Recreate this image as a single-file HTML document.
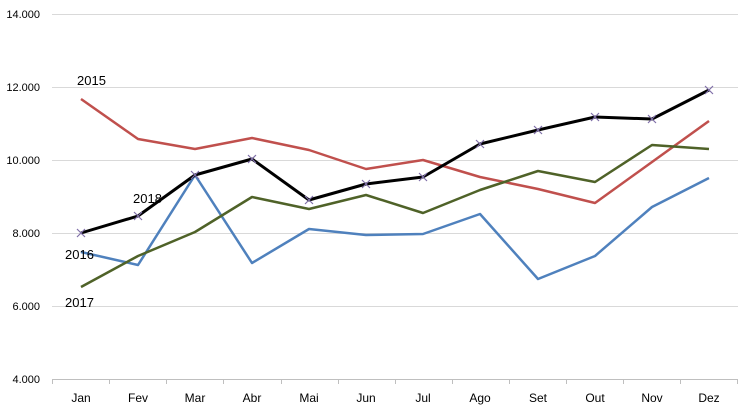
<!DOCTYPE html>
<html><head><meta charset="utf-8"><style>body{margin:0;background:#fff}svg{display:block}text{font-family:"Liberation Sans",sans-serif;font-size:12px;fill:#000}</style></head>
<body>
<svg width="750" height="413" viewBox="0 0 750 413">
<g stroke="#d9d9d9" stroke-width="1">
<line x1="52" y1="14.5" x2="738" y2="14.5"/><line x1="52" y1="87.5" x2="738" y2="87.5"/>
<line x1="52" y1="160.5" x2="738" y2="160.5"/><line x1="52" y1="233.5" x2="738" y2="233.5"/>
<line x1="52" y1="306.5" x2="738" y2="306.5"/></g>
<line x1="52" y1="379.5" x2="738" y2="379.5" stroke="#bfbfbf"/>
<g stroke="#bfbfbf">
<line x1="52.5" y1="379" x2="52.5" y2="384"/><line x1="109.5" y1="379" x2="109.5" y2="384"/><line x1="166.5" y1="379" x2="166.5" y2="384"/><line x1="223.5" y1="379" x2="223.5" y2="384"/><line x1="281.5" y1="379" x2="281.5" y2="384"/><line x1="338.5" y1="379" x2="338.5" y2="384"/><line x1="395.5" y1="379" x2="395.5" y2="384"/><line x1="452.5" y1="379" x2="452.5" y2="384"/><line x1="509.5" y1="379" x2="509.5" y2="384"/><line x1="566.5" y1="379" x2="566.5" y2="384"/><line x1="623.5" y1="379" x2="623.5" y2="384"/><line x1="680.5" y1="379" x2="680.5" y2="384"/><line x1="737.5" y1="379" x2="737.5" y2="384"/></g>
<g text-anchor="end" font-size="11"><text x="40" y="18" style="font-size:11px">14.000</text><text x="40" y="91" style="font-size:11px">12.000</text><text x="40" y="164" style="font-size:11px">10.000</text><text x="40" y="237" style="font-size:11px">8.000</text><text x="40" y="310" style="font-size:11px">6.000</text><text x="40" y="383" style="font-size:11px">4.000</text></g>
<g text-anchor="middle"><text x="81" y="402">Jan</text><text x="138" y="402">Fev</text><text x="195" y="402">Mar</text><text x="252" y="402">Abr</text><text x="309" y="402">Mai</text><text x="366" y="402">Jun</text><text x="423" y="402">Jul</text><text x="480" y="402">Ago</text><text x="538" y="402">Set</text><text x="595" y="402">Out</text><text x="652" y="402">Nov</text><text x="709" y="402">Dez</text></g>
<g fill="none" stroke-width="2.5" stroke-linejoin="round">
<polyline stroke="#c0504d" points="81,99 138,139 195,149 252,138 309,150 366,169 423,160 480,177 538,189 595,203 652,162 709,121"/>
<polyline stroke="#4f81bd" points="81,252 138,265 195,175 252,263 309,229 366,235 423,234 480,214 538,279 595,256 652,207 709,178"/>
<polyline stroke="#4f6228" points="81,287 138,256 195,232 252,197 309,209 366,195 423,213 480,190 538,171 595,182 652,145 709,149"/>
<polyline stroke="#000" stroke-width="3" points="81,233 138,216 195,175 252,159 309,200 366,184 423,177 480,144 538,130 595,117 652,119 709,90"/>
</g>
<g stroke="#7f6fa8" stroke-width="1.2">
<path d="M77,229l8,8M85,229l-8,8 M134,212l8,8M142,212l-8,8 M191,171l8,8M199,171l-8,8 M248,155l8,8M256,155l-8,8 M305,196l8,8M313,196l-8,8 M362,180l8,8M370,180l-8,8 M419,173l8,8M427,173l-8,8 M476,140l8,8M484,140l-8,8 M534,126l8,8M542,126l-8,8 M591,113l8,8M599,113l-8,8 M648,115l8,8M656,115l-8,8 M705,86l8,8M713,86l-8,8"/></g>
<text x="77" y="85" style="font-size:13px">2015</text>
<text x="133" y="203" style="font-size:13px">2018</text>
<text x="65" y="259" style="font-size:13px">2016</text>
<text x="65" y="307" style="font-size:13px">2017</text>
</svg>
</body></html>
